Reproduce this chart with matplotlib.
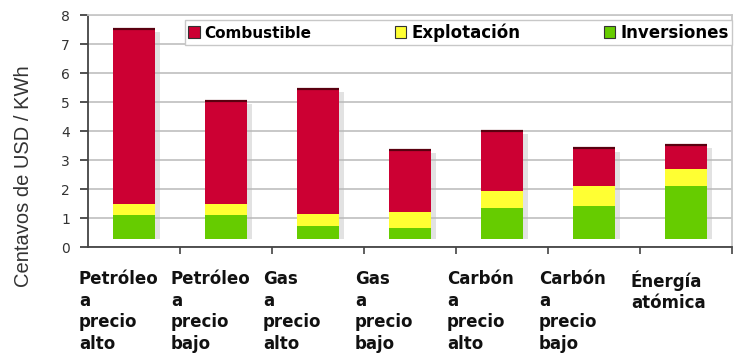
import matplotlib.pyplot as plt
import numpy as np

# data (centavos de USD / KWh)
categorias = ["Petróleo\na\nprecio\nalto", "Petróleo\na\nprecio\nbajo",
              "Gas\na\nprecio\nalto", "Gas\na\nprecio\nbajo",
              "Carbón\na\nprecio\nalto", "Carbón\na\nprecio\nbajo",
              "Énergía\natómica"]
inversiones = [0.83, 0.83, 0.46, 0.39, 1.09, 1.15, 1.83]
explotacion = [0.38, 0.38, 0.40, 0.55, 0.58, 0.69, 0.58]
combustible = [6.05, 3.56, 4.32, 2.14, 2.07, 1.29, 0.84]
series = ["Combustible", "Explotación", "Inversiones"]

piso = 0.27  # bars sit a little above zero in the original
rojo, amarillo, verde = "#CC0033", "#FFFF33", "#66CC00"

plt.rcParams['font.family'] = ['DejaVu Sans']

fig = plt.figure(figsize=(7.36, 3.58), dpi=100)
ax = fig.add_axes([0.1196, 0.31, 0.875, 0.648])

x = np.arange(len(categorias))
w = 0.455
inv = np.array(inversiones)
exp_ = np.array(explotacion)
com = np.array(combustible)
total = piso + inv + exp_ + com

# soft shadow behind the bars
ax.bar(x + 0.06, total - piso - 0.12, w, bottom=piso, color="#b8b8b8", alpha=0.4, zorder=2)

b3 = ax.bar(x, inv, w, bottom=piso, color=verde, zorder=3, label=series[2])
b2 = ax.bar(x, exp_, w, bottom=piso + inv, color=amarillo, zorder=3, label=series[1])
b1 = ax.bar(x, com, w, bottom=piso + inv + exp_, color=rojo, zorder=3, label=series[0])
ax.hlines(total, x - w / 2, x + w / 2, color="#5a0010", lw=1.6, zorder=4)

ax.set_xlim(-0.5, 6.5)
ax.set_ylim(0, 8)
ax.set_yticks(range(0, 9))
ax.yaxis.grid(True, color="#c4c4c4", lw=1.3, zorder=0)
ax.set_axisbelow(True)
ax.tick_params(axis='y', labelsize=10, colors="#333333", length=6, width=1.2, pad=7)
ax.set_xticks(x)
ax.set_xticklabels([])
ax.tick_params(axis='x', length=0)
ax.set_xticks(np.arange(0.5, 7, 1), minor=True)
ax.tick_params(axis='x', which='minor', length=5, width=1.2, color="#444444")

for s in ["top", "right"]:
    ax.spines[s].set_color("#c8c8c8")
    ax.spines[s].set_linewidth(1.3)
for s in ["left", "bottom"]:
    ax.spines[s].set_color("#444444")
    ax.spines[s].set_linewidth(1.3)

ax.set_ylabel("Centavos de USD / KWh", fontsize=14.5, color="#333333",
              family=['Liberation Sans', 'DejaVu Sans'])
ax.yaxis.set_label_coords(-0.0854, 0.306)

for xi, lab in zip(x, categorias):
    ax.text(xi - 0.6, -0.1, lab, transform=ax.get_xaxis_transform(),
            ha='left', va='top', fontsize=12, fontweight='bold',
            linespacing=1.25, color="#111111")

leg = ax.legend(handles=[b1, b2, b3], labels=series, ncol=3, mode='expand',
                bbox_to_anchor=(0.15, 0.87, 0.85, 0.13), loc='lower left',
                frameon=True, fancybox=False, framealpha=1, edgecolor="#c8c8c8",
                prop={'weight': 'bold', 'size': 12}, handlelength=0.7,
                handleheight=0.7, handletextpad=0.3, borderaxespad=0,
                borderpad=0.2)
for h in leg.legend_handles:
    h.set_edgecolor("#333333")
    h.set_linewidth(0.8)
leg.get_texts()[0].set_fontsize(11)
leg.set_zorder(5)

fig.savefig("out.png", dpi=100)
